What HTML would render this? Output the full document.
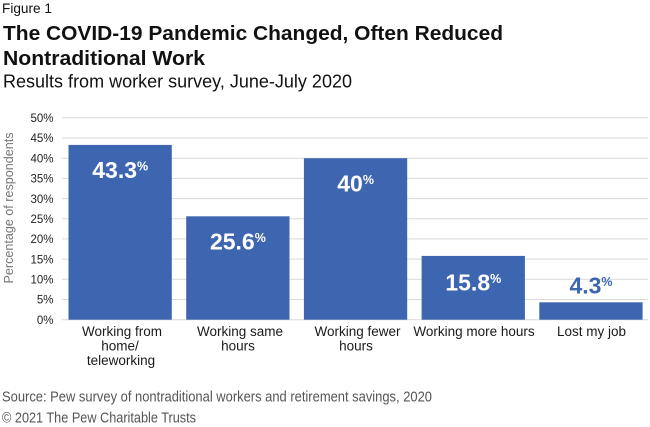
<!DOCTYPE html>
<html><head><meta charset="utf-8"><style>
html,body{margin:0;padding:0;background:#fff;}
svg{display:block;}
text{font-family:"Liberation Sans",sans-serif;}
</style></head><body>
<svg width="650" height="427" viewBox="0 0 650 427" xmlns="http://www.w3.org/2000/svg">
<rect width="650" height="427" fill="#fff"/>
<text x="2" y="13" font-size="14" fill="#111" textLength="50" lengthAdjust="spacingAndGlyphs">Figure 1</text>
<text x="3" y="40" font-size="20.5" font-weight="bold" fill="#111" textLength="500" lengthAdjust="spacingAndGlyphs">The COVID-19 Pandemic Changed, Often Reduced</text>
<text x="3" y="65" font-size="20.5" font-weight="bold" fill="#111" textLength="202" lengthAdjust="spacingAndGlyphs">Nontraditional Work</text>
<text x="3" y="87.5" font-size="18.5" fill="#111" textLength="349" lengthAdjust="spacingAndGlyphs">Results from worker survey, June-July 2020</text>

<g stroke="#d9d9d9" stroke-width="1">
<line x1="62" x2="648" y1="117.8" y2="117.8"/>
<line x1="62" x2="648" y1="138" y2="138"/>
<line x1="62" x2="648" y1="158.2" y2="158.2"/>
<line x1="62" x2="648" y1="178.4" y2="178.4"/>
<line x1="62" x2="648" y1="198.6" y2="198.6"/>
<line x1="62" x2="648" y1="218.8" y2="218.8"/>
<line x1="62" x2="648" y1="238.9" y2="238.9"/>
<line x1="62" x2="648" y1="259.1" y2="259.1"/>
<line x1="62" x2="648" y1="279.3" y2="279.3"/>
<line x1="62" x2="648" y1="299.5" y2="299.5"/>
<line x1="62" x2="648" y1="319.7" y2="319.7"/>
</g>

<g font-size="11.5" fill="#222" text-anchor="end">
<text x="53.5" y="122">50%</text>
<text x="53.5" y="142.2">45%</text>
<text x="53.5" y="162.4">40%</text>
<text x="53.5" y="182.6">35%</text>
<text x="53.5" y="202.8">30%</text>
<text x="53.5" y="223">25%</text>
<text x="53.5" y="243.1">20%</text>
<text x="53.5" y="263.3">15%</text>
<text x="53.5" y="283.5">10%</text>
<text x="53.5" y="303.7">5%</text>
<text x="53.5" y="323.9">0%</text>
</g>

<text transform="translate(13,208) rotate(-90)" text-anchor="middle" font-size="12.5" fill="#777" textLength="151" lengthAdjust="spacingAndGlyphs">Percentage of respondents</text>

<g fill="#3e66b0">
<rect x="68.5" y="144.9" width="103.3" height="174.8"/>
<rect x="186.2" y="216.3" width="103.3" height="103.4"/>
<rect x="303.9" y="158.2" width="103.3" height="161.5"/>
<rect x="421.6" y="255.9" width="103.3" height="63.8"/>
<rect x="539.3" y="302.3" width="103.3" height="17.4"/>
</g>

<g font-weight="bold" font-size="23" text-anchor="middle">
<text x="120.2" y="178" fill="#fff">43.3<tspan font-size="12.5" dy="-7.5">%</tspan></text>
<text x="237.9" y="249.3" fill="#fff">25.6<tspan font-size="12.5" dy="-7.5">%</tspan></text>
<text x="355.6" y="191.7" fill="#fff">40<tspan font-size="12.5" dy="-7.5">%</tspan></text>
<text x="473.3" y="290.7" fill="#fff">15.8<tspan font-size="12.5" dy="-7.5">%</tspan></text>
<text x="591" y="293.3" fill="#3e66b0">4.3<tspan font-size="12.5" dy="-7.5">%</tspan></text>
</g>

<g font-size="13.5" fill="#1a1a1a" text-anchor="middle">
<text x="122" y="336">Working from</text>
<text x="120" y="350.5">home/</text>
<text x="121" y="365">teleworking</text>
<text x="240" y="336">Working same</text>
<text x="238" y="350.5">hours</text>
<text x="357.5" y="336">Working fewer</text>
<text x="356" y="350.5">hours</text>
<text x="474" y="336">Working more hours</text>
<text x="591.5" y="336">Lost my job</text>
</g>

<text x="2" y="401.5" font-size="15" fill="#555" textLength="430" lengthAdjust="spacingAndGlyphs">Source: Pew survey of nontraditional workers and retirement savings, 2020</text>
<text x="2" y="422.5" font-size="15" fill="#555" textLength="194" lengthAdjust="spacingAndGlyphs">© 2021 The Pew Charitable Trusts</text>
</svg>
</body></html>
